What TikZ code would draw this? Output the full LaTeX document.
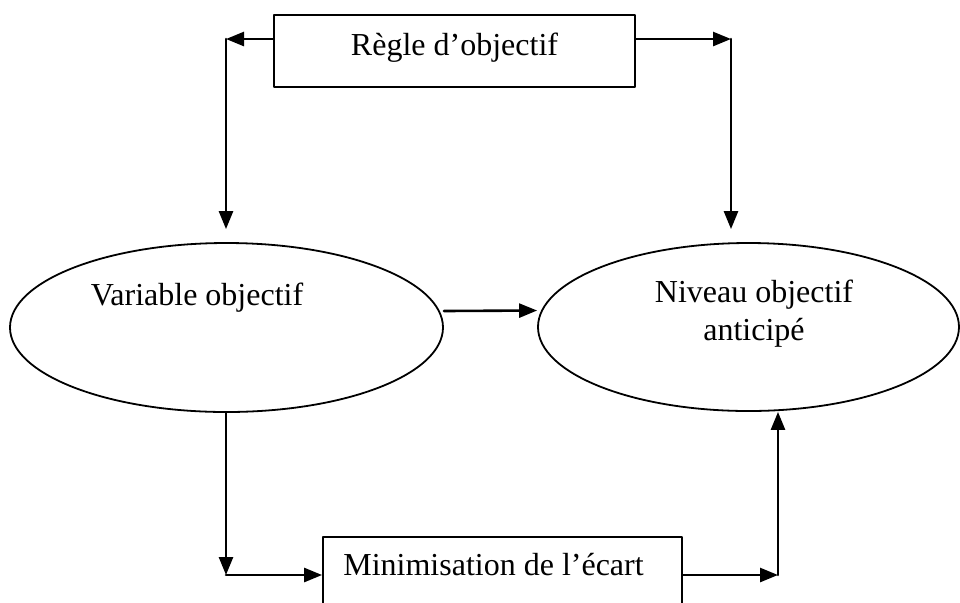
\documentclass[tikz,border=0pt]{standalone}
\usepackage{fontspec}
\setmainfont{Liberation Serif}
\usetikzlibrary{arrows.meta,shapes.geometric}

\begin{document}
\begin{tikzpicture}[line cap=round,line join=round,>={Triangle[length=9pt,width=7pt]},x=0.5pt,y=-0.5pt,
  boite/.style={draw,line width=0.9pt,rectangle,inner sep=0pt,font=\fontsize{16}{19}\selectfont},
  bulle/.style={draw,line width=0.9pt,ellipse,inner sep=0pt},
  txt/.style={font=\fontsize{16}{19}\selectfont,align=center},
  fleche/.style={->,line width=1.3pt}]
\useasboundingbox (0,0) rectangle (960,602);
\clip (0,0) rectangle (960,602);
% boites et bulles
\node[boite,minimum width=180.5pt,text height=20pt,text depth=16pt,anchor=base] (regle) at (454.5,55) {Règle d’objectif};
\node[bulle,minimum width=216.5pt,minimum height=84.5pt] (varobj) at (226.5,327.5) {};
\node[txt,anchor=base] (varobjtxt) at (197,305) {Variable objectif};
\node[bulle,minimum width=210.5pt,minimum height=84pt] (niveau) at (748.5,327) {};
\node[txt,anchor=base] (niveautxt) at (754,340) {Niveau objectif\\anticipé};
\node[boite,minimum width=179.5pt,text height=19pt,text depth=30pt,anchor=base] (minim) at (502.5,575) {Minimisation de l’écart\kern9pt};
% coins
\coordinate (hg) at (226,39);
\coordinate (hd) at (731,39);
\coordinate (bg) at (226,575);
\coordinate (bd) at (778,575);
% fleches
\draw [fleche] (regle.west |- hg) -- (hg);
\draw [fleche,shorten >=6.5pt] (hg) -- (hg |- varobj.north);
\draw [fleche] (regle.east |- hd) -- (hd);
\draw [fleche,shorten >=6.5pt] (hd) -- (hd |- niveau.north);
\draw [fleche] ([yshift=8.25pt]varobj.east) -- ([yshift=8.25pt]niveau.west);
\draw [fleche] (bg |- varobj.south) -- (bg);
\draw [fleche] (bg) -- (minim.west |- bg);
\draw [fleche] (minim.east |- bg) -- (bd);
\draw [fleche] (bd) -- (bd |- niveau.south);
\end{tikzpicture}
\end{document}
